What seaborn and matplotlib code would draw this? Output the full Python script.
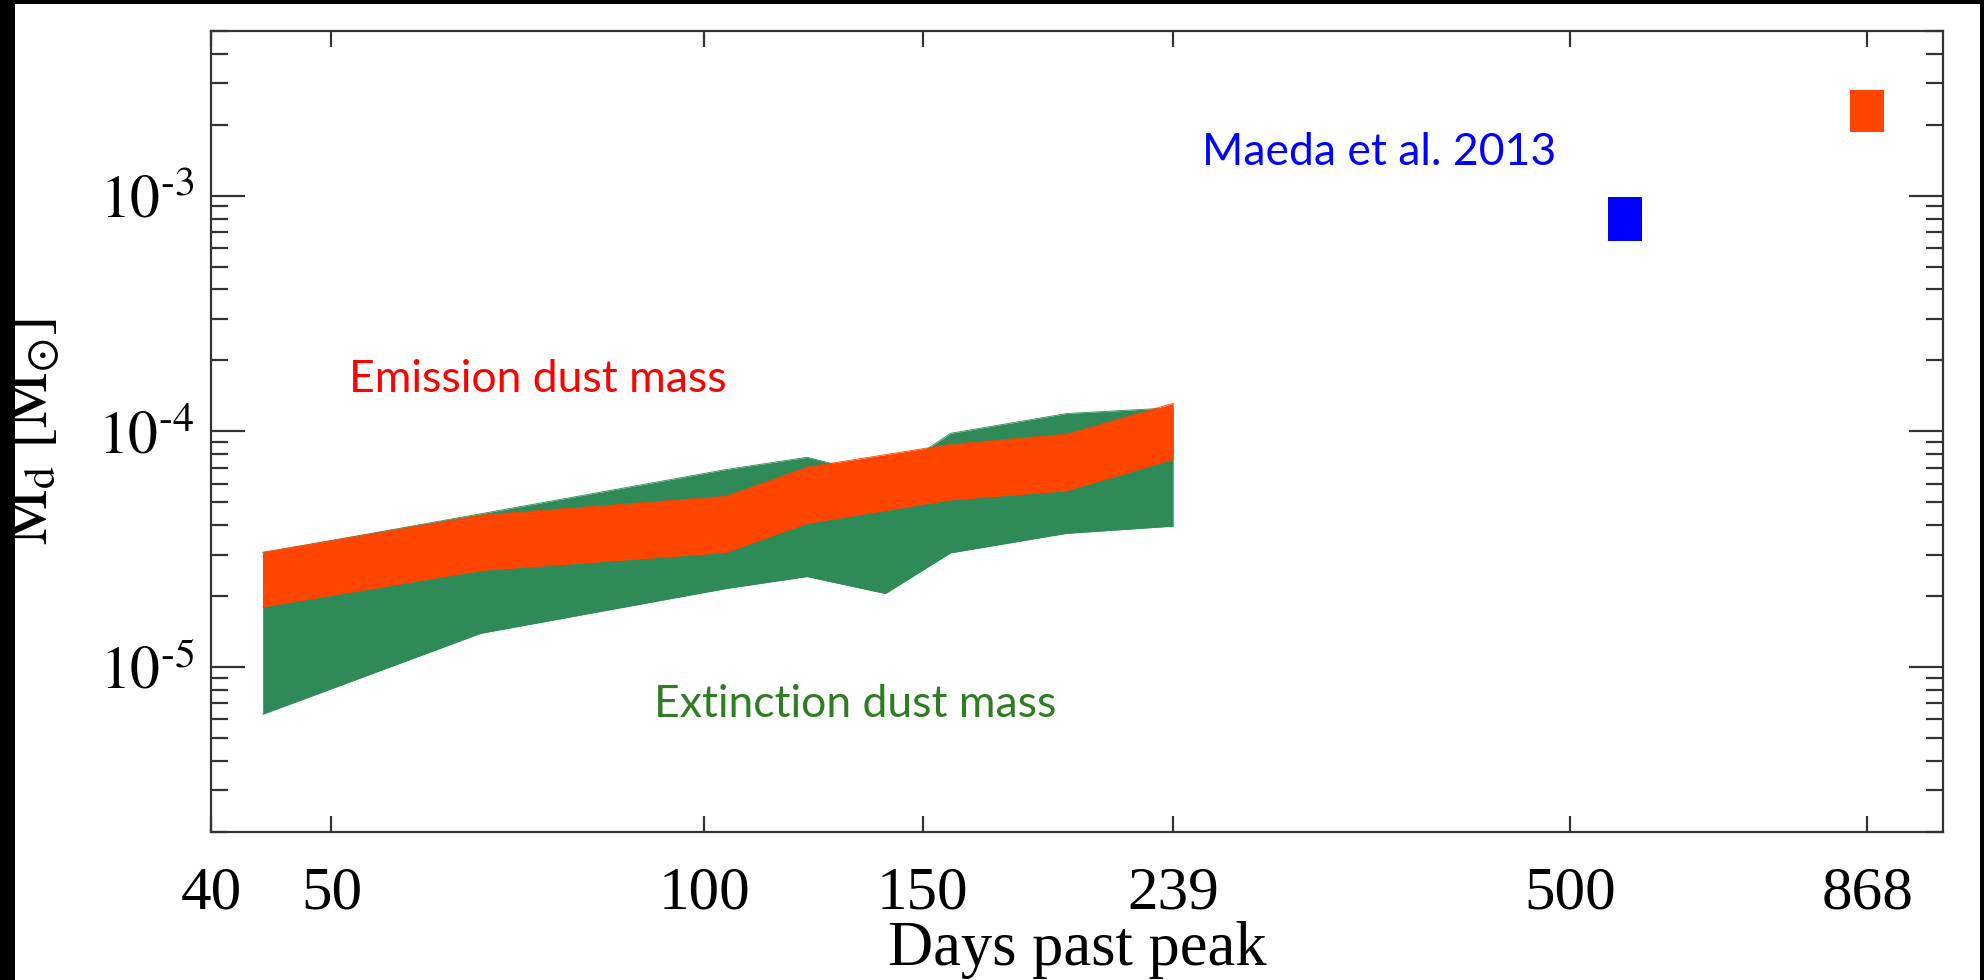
import matplotlib
matplotlib.use("Agg")
import matplotlib.pyplot as plt
from matplotlib.patches import Rectangle
from matplotlib.ticker import LogLocator, NullLocator, NullFormatter, FixedLocator
import seaborn as sns
import pandas as pd

# ---------------- data ----------------
ext_days = [44, 66, 104, 121, 140, 158, 196, 239]
ext_low = [6.3e-6, 1.39e-5, 2.15e-5, 2.42e-5, 2.05e-5, 3.05e-5, 3.69e-5, 3.96e-5]
ext_high = [3.05e-5, 4.47e-5, 6.88e-5, 7.76e-5, 6.4e-5, 9.81e-5, 1.19e-4, 1.26e-4]

emi_days = [44, 66, 104, 121, 158, 196, 239]
emi_low = [1.80e-5, 2.57e-5, 3.06e-5, 4.07e-5, 5.12e-5, 5.60e-5, 7.62e-5]
emi_high = [3.07e-5, 4.41e-5, 5.30e-5, 7.05e-5, 8.81e-5, 9.73e-5, 1.315e-4]

maeda_days = [553]
maeda_low = [6.4e-4]
maeda_high = [9.9e-4]

late_days = [868]
late_low = [1.86e-3]
late_high = [2.80e-3]

xtick_vals = [40, 50, 100, 150, 239, 500, 868]
xtick_labels = ["40", "50", "100", "150", "239", "500", "868"]
ytick_vals = [1e-5, 1e-4, 1e-3]
ytick_labels = [r"$\mathrm{10^{\text{-}5}}$", r"$\mathrm{10^{\text{-}4}}$", r"$\mathrm{10^{\text{-}3}}$"]

# ---------------- style ----------------
sns.set_theme(style="ticks")
plt.rcParams["font.family"] = ["Liberation Serif", "DejaVu Serif"]
plt.rcParams["mathtext.fontset"] = "stix"

GREEN = "#2e8b57"
ORANGE = "#ff4500"
BLUE = "#0000ff"
AXC = "#333333"

fig = plt.figure(figsize=(19.84, 9.80), dpi=100)
fig.patch.set_facecolor("white")
ax = fig.add_axes([211.4 / 1984, 1 - 831.7 / 980, 1731.9 / 1984, 800.7 / 980])
ax.set_facecolor("white")

ext = pd.DataFrame({"day": ext_days, "low": ext_low, "high": ext_high})
emi = pd.DataFrame({"day": emi_days, "low": emi_low, "high": emi_high})

ax.fill_between(ext["day"], ext["low"], ext["high"], color=GREEN, lw=0, zorder=2)
for col in ["low", "high"]:
    sns.lineplot(data=ext, x="day", y=col, ax=ax, color=GREEN, lw=0.6, zorder=2,
                 estimator=None, sort=False)
ax.fill_between(emi["day"], emi["low"], emi["high"], color=ORANGE, lw=0, zorder=3)
for col in ["low", "high"]:
    sns.lineplot(data=emi, x="day", y=col, ax=ax, color=ORANGE, lw=0.6, zorder=3,
                 estimator=None, sort=False)

half = 1.032
for d, lo, hi in zip(maeda_days, maeda_low, maeda_high):
    ax.fill_between([d / half, d * half], [lo, lo], [hi, hi], color=BLUE, lw=0, zorder=3)
for d, lo, hi in zip(late_days, late_low, late_high):
    ax.fill_between([d / half, d * half], [lo, lo], [hi, hi], color=ORANGE, lw=0, zorder=3)

ax.set_xscale("log")
ax.set_yscale("log")
ax.set_xlim(40, 1000)
ax.set_ylim(2e-6, 5e-3)

ax.xaxis.set_major_locator(FixedLocator(xtick_vals))
ax.set_xticklabels(xtick_labels)
ax.xaxis.set_minor_locator(NullLocator())
ax.yaxis.set_major_locator(FixedLocator(ytick_vals))
ax.set_yticklabels(ytick_labels)
ax.yaxis.set_minor_locator(LogLocator(base=10, subs=[2, 3, 4, 5, 6, 7, 8, 9]))
ax.yaxis.set_minor_formatter(NullFormatter())

ax.tick_params(axis="y", which="major", direction="in", length=24.5, width=1.6,
               left=True, right=True, labelsize=43, pad=12, color=AXC, labelcolor="black")
ax.tick_params(axis="y", which="minor", direction="in", length=12.2, width=1.6,
               left=True, right=True, color=AXC)
ax.tick_params(axis="x", which="major", direction="in", length=11.5, width=1.6,
               top=True, bottom=True, labelsize=44, pad=25, color=AXC, labelcolor="black")

for s in ax.spines.values():
    s.set_linewidth(1.6)
    s.set_color(AXC)
    s.set_visible(True)
ax.grid(False)

ax.set_xlabel("Days past peak", fontsize=45, color="black")
ax.xaxis.label.set_va("baseline")
ax.xaxis.set_label_coords(0.5, -0.167)
ax.set_ylabel(r"$\mathrm{M_d\ [M_{\odot}]}$", fontsize=45, color="black")
ax.yaxis.set_label_coords(-0.086, 0.5)

tfont = ["Lato", "DejaVu Sans"]
ax.text(0.0794, 0.549, "Emission dust mass", transform=ax.transAxes, color="#ff0000",
        fontsize=32, family=tfont, ha="left", va="baseline", zorder=5)
ax.text(0.2556, 0.1433, "Extinction dust mass", transform=ax.transAxes, color="#2e7d22",
        fontsize=32, family=tfont, ha="left", va="baseline", zorder=5)
ax.text(0.5718, 0.8327, "Maeda et al. 2013", transform=ax.transAxes, color=BLUE,
        fontsize=32, family=tfont, ha="left", va="baseline", zorder=5)

# black frame strips around the picture
for (x0, y0, w, h) in [(0, 0, 15 / 1984, 1), (0, 1 - 4 / 980, 1, 4 / 980),
                       (1 - 4 / 1984, 0, 4 / 1984, 1)]:
    fig.add_artist(Rectangle((x0, y0), w, h, transform=fig.transFigure,
                             facecolor="black", edgecolor="none", zorder=10))

fig.savefig("out.png", dpi=100)
